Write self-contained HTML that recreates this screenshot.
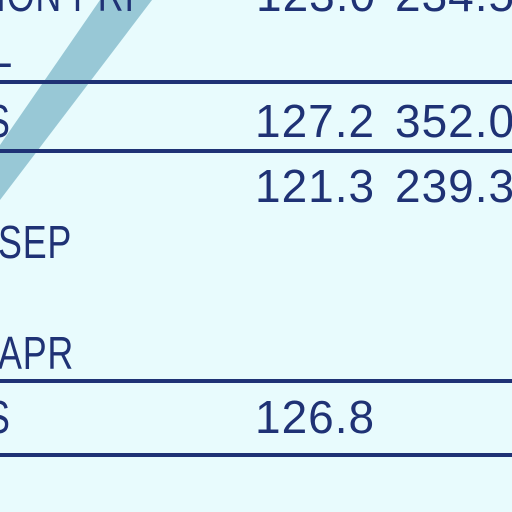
<!DOCTYPE html>
<html><head><style>
body{margin:0;width:512px;height:512px;overflow:hidden;background:#e8fbfd;position:relative;font-family:"Liberation Sans",sans-serif;color:#1f3275}
.t{position:absolute;font-size:46px;letter-spacing:1px;line-height:1;white-space:nowrap}
.c{transform:scaleX(0.78);transform-origin:left top}
.l{position:absolute;left:0;width:512px;height:4px;background:#1f3275}
</style></head><body>
<svg width="512" height="512" style="position:absolute;left:0;top:0">
<polygon points="100,0 152,0 0,200 0,145" fill="#98c8d6"/>
</svg>
<div class="t c" style="left:-4px;top:-28px">ION PRI</div>
<div class="t" style="left:256px;top:-28px">123.0</div>
<div class="t" style="left:395px;top:-28px">234.5</div>
<div class="t c" style="left:-8px;top:28px">L</div>
<div class="l" style="top:80px"></div>
<div class="t c" style="left:-14px;top:98px">S</div>
<div class="t" style="left:255px;top:98px">127.2</div>
<div class="t" style="left:395px;top:98px">352.0</div>
<div class="l" style="top:149px"></div>
<div class="t" style="left:255px;top:163px">121.3</div>
<div class="t" style="left:395px;top:163px">239.3</div>
<div class="t c" style="left:-2px;top:219px">SEP</div>
<div class="t c" style="left:-2px;top:330px">APR</div>
<div class="l" style="top:379px"></div>
<div class="t c" style="left:-14px;top:394px">S</div>
<div class="t" style="left:255px;top:394px">126.8</div>
<div class="l" style="top:453px"></div>
</body></html>
